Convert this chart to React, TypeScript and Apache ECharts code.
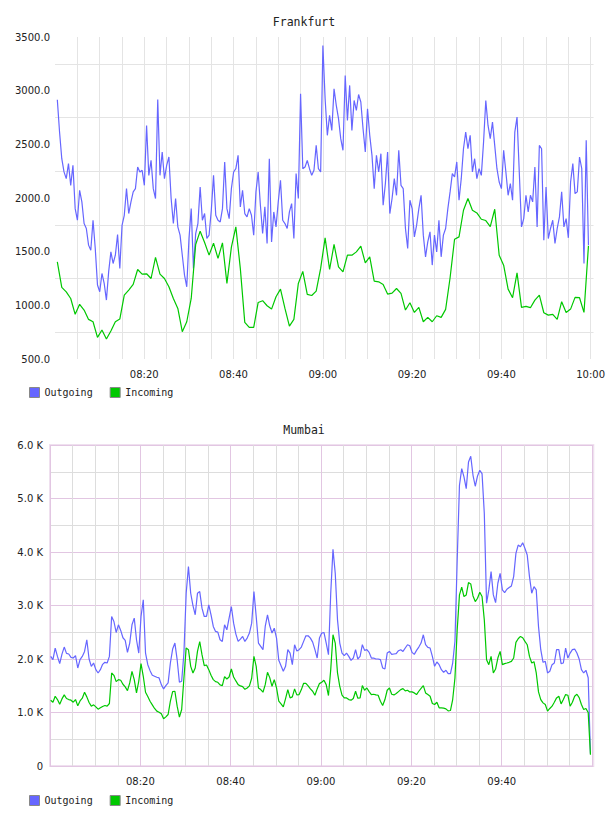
import React, { useEffect, useRef } from "react";
import * as echarts from "echarts";

// Times are minutes after midnight.
const FRA_START = 480.52; // 08:00:31
const MUM_START = 480.15; // 08:00:09
const OUT_STEP = 0.5; // 30 s samples
const FRA_IN_STEP = 1; // 1 min samples
const MUM_STEP = 0.5;

const FRA_OUTGOING = [
  2915, 2615, 2366, 2243, 2180, 2320, 2118, 2305, 1901, 1793,
  2072, 1964, 1762, 1716, 1561, 1514, 1793, 1530, 1189, 1127,
  1297, 1204, 1049, 1312, 1498, 1390, 1467, 1660, 1344, 1746,
  1839, 2087, 1855, 1964, 2057, 2087, 2289, 2242, 2258, 2118,
  2676, 2211, 2351, 2087, 1995, 2918, 2211, 2428, 2180, 2304,
  2382, 1995, 1762, 1995, 1731, 1654, 1467, 1281, 1173, 1623,
  1901, 1344, 1669, 1762, 2103, 1793, 1855, 1623, 1654, 1886,
  2211, 1839, 1793, 1777, 1901, 2336, 1901, 1808, 2087, 2242,
  2273, 2397, 1917, 2072, 1855, 1824, 1901, 1839, 1654, 2057,
  2242, 1932, 1669, 1917, 1576, 2366, 1591, 1870, 1731, 1964,
  2165, 1793, 1762, 1716, 1870, 1948, 1623, 2227, 1995, 2971,
  2273, 2289, 2351, 2273, 2211, 2258, 2490, 2273, 2242, 3420,
  2925,
  2584, 2770, 2630, 3018, 2863, 2739, 2553, 2444, 3141, 2723,
  3049, 2630, 2909, 2816, 2964, 2894, 2645, 2428, 2832, 2584,
  2397, 2087, 2397, 2242, 2413, 1932, 2134, 2428, 1855, 1995,
  2180, 2025, 2444, 2118, 2087, 1716, 1530, 1979, 1901, 1638,
  1747, 1901, 2025, 1654, 1452, 1591, 1685, 1375, 1654, 1498,
  1793, 1452, 1654, 1716, 1901, 2057, 2227, 2196, 2336, 1979,
  2180, 2459, 2614, 2459, 2584, 2242, 2366, 2180, 2273, 2211,
  2522, 2909, 2676, 2553, 2707, 2490, 2273, 2149, 2087, 2444,
  2242, 2025, 2134, 1979, 2614, 2754, 2242, 1731, 1808, 2025,
  1870, 2025, 1964, 2289, 1731, 2490, 2459, 1607, 2103, 1622,
  1716, 1793, 1576, 1716, 1824, 2057, 1731, 1808, 1629, 2149,
  2320, 2041, 2057, 2382, 2273, 1390, 2537, 1560,
];

const FRA_INCOMING = [
  1405, 1167, 1126, 1064, 916, 1009, 956, 869, 847, 702,
  770, 686, 761, 847, 872, 1096, 1142, 1195, 1334, 1291,
  1294, 1250, 1446, 1291, 1250, 1173, 1064, 971, 755, 847,
  1064, 1567, 1691, 1585, 1468, 1579, 1437, 1582, 1204, 1542,
  1731, 1344, 841, 795, 795, 1027, 1043, 996, 965, 1080,
  1151, 971, 807, 869, 1204, 1316, 1102, 1092, 1133, 1344,
  1629, 1334, 1567, 1359, 1312, 1467, 1467, 1498, 1551, 1396,
  1452, 1226, 1219, 1195, 1105, 1114, 1157, 1111, 956, 1024,
  934, 981, 847, 888, 847, 903, 888, 962, 1257, 1616,
  1638, 1886, 1995, 1886, 1861, 1802, 1790, 1734, 1895, 1467,
  1374, 1151, 1071, 1303, 981, 990, 978, 1049, 1095, 931,
  909, 916, 869, 1034, 934, 965, 1074, 1071, 934, 1554,
];

const MUM_OUTGOING = [
  2049, 1987, 2205, 2049, 1913, 2092, 2223, 2105, 2093, 2031,
  2018, 2062, 1832, 1987, 2049, 2142, 2360, 2000, 1863, 1925,
  1801, 1739, 1801, 1900, 1938, 1925, 2049, 2795, 2701, 2496,
  2639, 2534, 2397, 2347, 2124, 2298, 2639, 2763, 2360, 2111,
  2795, 3105, 2111, 1894, 1782, 1695, 1677, 1658, 1646, 1521,
  1441, 1503, 1553, 1925, 2186, 2298, 1987, 1565, 1584, 2111,
  3229, 3726, 3229, 2999, 2826, 3229, 3260, 2950, 2795, 2795,
  3012, 2826, 2608, 2515, 2503, 2360, 2329, 2639, 2546, 2763,
  2981, 2670, 2465, 2329, 2372, 2422, 2329, 2391, 2484, 2670,
  3260, 2795, 2298, 2236, 2174, 2608, 2826, 2621, 2484, 2577,
  2391, 1975, 1875, 1770, 1863, 2174, 2111, 1894, 2267, 2149,
  2174, 2223, 2329, 2434, 2434, 2391, 2316, 2174, 2018, 2391,
  2484, 2496, 2298, 2080, 3229, 4049, 3602, 2732, 2298, 2111,
  2062, 2111, 2049, 1975, 2018, 2174, 2000, 2049, 2267, 2161,
  2174, 2124, 2018, 2018, 2000, 2000, 1987, 1832, 1813, 2111,
  2142, 2087, 2093, 2099, 2155, 2174, 2142, 2205, 2267, 2248,
  2124, 2087, 2161, 2223, 2298, 2453, 2267, 2217, 2205, 2049,
  1863, 1944, 1894, 1801, 1751, 1789, 1726, 1726, 1925, 2329,
  3850, 5247, 5558, 5403, 5185, 5682, 5788, 5434, 5229, 5421,
  5527, 5465, 4720, 3043, 3291, 3633, 3198, 3055, 3416, 3602,
  3291, 3242, 3304, 3335, 3366, 3540, 3974, 4130, 4099, 4173,
  4068, 3943, 3540, 3229, 3353, 3291, 2608, 2174, 1938, 1956,
  1739, 1770, 1894, 1925, 2174, 2174, 1913, 1925, 2205, 2018,
  2111, 2174, 2186, 2111, 2000, 1801, 1739, 1789, 1650, 230,
];

const MUM_INCOMING = [
  1230, 1192, 1304, 1242, 1155, 1254, 1329, 1261, 1242, 1230,
  1192, 1242, 1124, 1217, 1267, 1379, 1292, 1186, 1118, 1143,
  1105, 1062, 1087, 1112, 1130, 1118, 1168, 1739, 1695, 1577,
  1615, 1602, 1528, 1478, 1410, 1553, 1770, 1615, 1366, 1584,
  1913, 1677, 1379, 1298, 1211, 1143, 1075, 1025, 1006, 975,
  882, 919, 963, 1211, 1391, 1397, 1118, 913, 1056, 1646,
  2205, 2174, 1863, 1739, 1832, 2142, 2323, 2080, 1875, 1888,
  1801, 1695, 1615, 1577, 1565, 1515, 1503, 1670, 1627, 1664,
  1813, 1664, 1590, 1521, 1497, 1484, 1434, 1459, 1497, 1640,
  2049, 1863, 1459, 1428, 1379, 1521, 1751, 1652, 1490, 1615,
  1459, 1211, 1161, 1105, 1261, 1428, 1273, 1292, 1441, 1329,
  1335, 1428, 1546, 1546, 1497, 1441, 1397, 1323, 1441, 1540,
  1565, 1602, 1521, 1317, 1801, 2453, 2298, 1739, 1490, 1323,
  1273, 1273, 1242, 1230, 1261, 1397, 1267, 1273, 1503, 1416,
  1459, 1391, 1335, 1341, 1329, 1323, 1211, 1130, 1242, 1416,
  1459, 1341, 1329, 1354, 1391, 1428, 1447, 1404, 1416, 1385,
  1385, 1366, 1335, 1397, 1453, 1503, 1366, 1335, 1304, 1168,
  1149, 1192, 1087, 1087, 1081, 1068, 1031, 1037, 1242, 1646,
  2546, 3198, 3341, 3167, 3198, 3428, 3403, 3179, 3074, 3136,
  3248, 3167, 2732, 1987, 1894, 2049, 1739, 1813, 2018, 2142,
  1894, 1913, 1925, 1938, 1956, 2018, 2310, 2378, 2422, 2397,
  2329, 2267, 2049, 1925, 1950, 1739, 1385, 1242, 1180, 1149,
  1025, 1075, 1118, 1192, 1273, 1304, 1161, 1242, 1335, 1323,
  1118, 1192, 1304, 1341, 1279, 1149, 1056, 1075, 1000, 210,
];

const SERIES_NAMES = ["Outgoing", "Incoming"];

const OUT_COLOR = "#6666ff";
const IN_COLOR = "#00c800";
const MONO = "DejaVu Sans Mono";
const SANS = "DejaVu Sans";

const withTimes = (values: number[], start: number, step: number) =>
  values.map((v, i) => [start + i * step, v]);

const pad = (n: number) => (n < 10 ? "0" + n : String(n));

const timeLabel = (hideAt: number[]) => (v: number) => {
  const m = Math.round(v);
  if (Math.abs(v - m) > 1e-6 || m % 20 !== 0 || hideAt.includes(m)) return "";
  return pad(Math.floor(m / 60)) + ":" + pad(m % 60);
};

export default function App() {
  const ref = useRef<HTMLDivElement>(null);

  useEffect(() => {
    document.body.style.margin = "0";
    if (!ref.current) return;
    const chart = echarts.init(ref.current, null, { renderer: "svg" });

    const labelStyle = { color: "#222", fontFamily: SANS, fontSize: 10 };
    const titleStyle = { color: "#222", fontFamily: MONO, fontSize: 11.5, fontWeight: "normal" };
    const legendBase = {
      left: 24,
      itemWidth: 10,
      itemHeight: 10,
      itemGap: 17,
      icon: "rect",
      itemStyle: { borderColor: "#888", borderWidth: 1 },
      textStyle: { color: "#222", fontFamily: MONO, fontSize: 10 },
      data: SERIES_NAMES,
      selectedMode: false,
    };

    chart.setOption({
      animation: false,
      backgroundColor: "#fff",
      title: [
        { text: "Frankfurt", left: "center", top: 11, textStyle: titleStyle },
        { text: "Mumbai", left: "center", top: 419, textStyle: titleStyle },
      ],
      legend: [
        { ...legendBase, top: 382 },
        { ...legendBase, top: 790 },
      ],
      grid: [
        { left: 55, right: 14, top: 37, height: 322, show: false },
        {
          left: 50,
          right: 14.7,
          top: 445,
          height: 321,
          show: true,
          borderColor: "#efe0ef",
          borderWidth: 2,
        },
      ],
      xAxis: [
        {
          type: "value",
          gridIndex: 0,
          min: 480,
          max: 600.66,
          interval: 20,
          axisLine: { show: false },
          axisTick: { show: false },
          axisLabel: { ...labelStyle, margin: 10, formatter: timeLabel([480]) },
          splitLine: {
            show: true,
            showMinLine: false,
            showMaxLine: false,
            lineStyle: { color: "#e4e4e4", width: 1 },
          },
          minorTick: { show: false, splitNumber: 4 },
          minorSplitLine: { show: true, lineStyle: { color: "#e4e4e4", width: 1 } },
        },
        {
          type: "value",
          gridIndex: 1,
          min: 480,
          max: 600.28,
          interval: 20,
          axisLine: { show: false },
          axisTick: { show: false },
          axisLabel: { ...labelStyle, margin: 10, formatter: timeLabel([480, 600]) },
          splitLine: {
            show: true,
            showMaxLine: false,
            lineStyle: { color: "#e2c6e2", width: 1 },
          },
          minorTick: { show: false, splitNumber: 4 },
          minorSplitLine: { show: true, lineStyle: { color: "#dddddd", width: 1 } },
        },
      ],
      yAxis: [
        {
          type: "value",
          gridIndex: 0,
          min: 500,
          max: 3500,
          interval: 500,
          axisLine: { show: false },
          axisTick: { show: false },
          axisLabel: { ...labelStyle, margin: 5, formatter: (v: number) => v.toFixed(1) },
          splitLine: { show: false },
          minorTick: { show: false, splitNumber: 2 },
          minorSplitLine: { show: true, lineStyle: { color: "#e4e4e4", width: 1 } },
        },
        {
          type: "value",
          gridIndex: 1,
          min: 0,
          max: 6000,
          interval: 1000,
          axisLine: { show: false },
          axisTick: { show: false },
          axisLabel: {
            ...labelStyle,
            margin: 7,
            formatter: (v: number) => (v === 0 ? "0" : (v / 1000).toFixed(1) + " K"),
          },
          splitLine: { show: true, lineStyle: { color: "#e2c6e2", width: 1 } },
          minorTick: { show: false, splitNumber: 2 },
          minorSplitLine: { show: true, lineStyle: { color: "#dddddd", width: 1 } },
        },
      ],
      series: [
        {
          name: "Outgoing",
          type: "line",
          xAxisIndex: 0,
          yAxisIndex: 0,
          data: withTimes(FRA_OUTGOING, FRA_START, OUT_STEP),
          showSymbol: false,
          color: OUT_COLOR,
          lineStyle: { color: OUT_COLOR, width: 1.2 },
        },
        {
          name: "Incoming",
          type: "line",
          xAxisIndex: 0,
          yAxisIndex: 0,
          data: withTimes(FRA_INCOMING, FRA_START, FRA_IN_STEP),
          showSymbol: false,
          color: IN_COLOR,
          lineStyle: { color: IN_COLOR, width: 1.2 },
        },
        {
          name: "Outgoing",
          type: "line",
          xAxisIndex: 1,
          yAxisIndex: 1,
          data: withTimes(MUM_OUTGOING, MUM_START, MUM_STEP),
          showSymbol: false,
          color: OUT_COLOR,
          lineStyle: { color: OUT_COLOR, width: 1.2 },
        },
        {
          name: "Incoming",
          type: "line",
          xAxisIndex: 1,
          yAxisIndex: 1,
          data: withTimes(MUM_INCOMING, MUM_START, MUM_STEP),
          showSymbol: false,
          color: IN_COLOR,
          lineStyle: { color: IN_COLOR, width: 1.2 },
        },
      ],
    });

    return () => chart.dispose();
  }, []);

  return <div ref={ref} style={{ width: 608, height: 816 }} />;
}
